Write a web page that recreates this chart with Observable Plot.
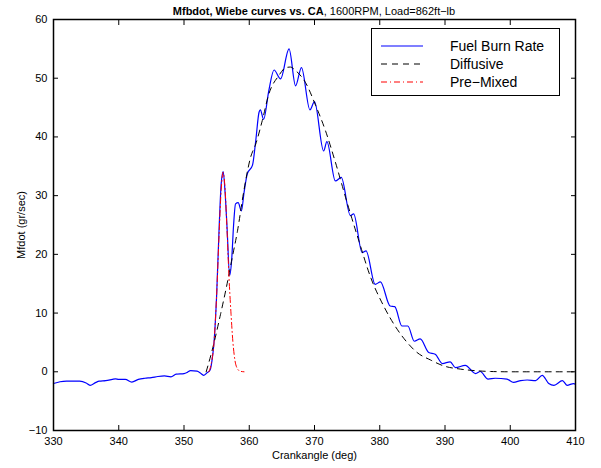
<!DOCTYPE html>
<html>
<head>
<meta charset="utf-8">
<script src="https://cdn.jsdelivr.net/npm/d3@7"></script>
<script src="https://cdn.jsdelivr.net/npm/@observablehq/plot@0.6"></script>
<style>
  body { margin: 0; background: #fff; }
  #wrap { position: relative; width: 601px; height: 468px; font-family: "Liberation Sans", Arial, Helvetica, sans-serif; }
  #title { position: absolute; left: 0; width: 628px; top: 5px; text-align: center; font-size: 11px; color: #000; }
  #legend { position: absolute; left: 371px; top: 28px; width: 189px; height: 68px; border: 1.3px solid #000; background: #fff; box-sizing: border-box; }
  .row { position: absolute; left: 0; height: 18px; display: flex; align-items: center; font-size: 14px; }
  .row svg { margin-left: 9px; margin-right: 27px; }
</style>
</head>
<body>
<div id="wrap">
  <div id="title"><b>Mfbdot, Wiebe curves vs. CA</b>, 1600RPM, Load=862ft−lb</div>
  <div id="chart"></div>
  <div id="legend"></div>
</div>
<script>
// Fuel burn rate (blue)
const crankFuel = [330,331,332,333,334,335,335.6,336.5,337,338,339,339.5,340,341,342,343,344,345,346,347,348,348.8,350,350.5,351,352,352.5,353,353.5,354,354.3,354.6,355,355.4,355.7,356,356.3,356.6,357,357.3,357.6,357.9,358.3,358.8,359.2,359.7,360.5,361,361.5,361.7,362.2,363,363.8,364.8,366.1,367.1,368,369.3,370,371.4,371.9,373.2,374.1,375.5,376,377.3,377.9,379.3,380.1,381.6,382.3,383.4,384.3,385.3,386.2,387.5,388.5,389.6,390.8,391.6,393.1,394.7,395.4,396.6,397.7,399.5,400.5,401.6,402.6,403.9,404.9,405.9,406.7,408,408.7,409.7,410];
const fuelRate = [-2.0,-1.7,-1.6,-1.6,-1.6,-1.9,-2.3,-1.8,-1.6,-1.5,-1.3,-1.2,-1.3,-1.3,-1.75,-1.3,-1.1,-1.0,-0.8,-0.7,-0.85,-0.4,-0.3,-0.1,0.2,0.1,-0.2,-0.6,-0.2,0.3,2,5,13,25,32,34.1,30.5,24.5,16.4,19,25,28.6,28.8,27.4,30.5,33.7,35.2,39.4,44.2,44.6,43.0,47.9,51.4,49.9,55.0,48.7,51.8,44.6,46.0,37.6,39.2,32.5,33.1,26.6,26.9,20.3,20.6,14.9,15.3,11.2,11.1,7.8,7.8,5.2,5.6,3.3,3.0,1.4,1.7,0.7,1.1,-0.3,0.05,-1.25,-1.1,-1.25,-1.8,-1.5,-1.4,-1.5,-0.6,-2.0,-2.3,-1.5,-2.3,-2.0,-2.1];

// Diffusive Wiebe (black dashed)
const crankDiff = [353.4,354.3,355.6,356.7,357.4,358.2,359.2,360.2,361,362,363,364.5,365.6,366.3,367.1,368.6,370.2,371.7,373.2,375,376.8,378.6,380.6,382.4,384.2,385.7,387.8,389.8,392.4,394.9,397,400,410];
const diffusive = [0,3.6,9.8,15.5,19.5,24,31,36.5,38.8,42.8,47.3,50.4,51.8,51.9,51.3,49.3,45.3,41,35.7,28.8,22.3,16.1,11.2,7.7,5.0,3.3,2.0,1.0,0.45,0.17,0.05,0,0];

// Pre-mixed Wiebe (red dash-dot)
const crankPre = [353.8,354.2,354.6,355,355.4,355.7,356,356.3,356.6,356.9,357.2,357.5,357.8,358.2,358.6,359.2];
const premixed = [0,1.5,5,13,24,31,34,31,24,16,10,5,2,0.5,0.1,0];

const xTicks = [330,340,350,360,370,380,390,400,410];
const yTicks = [-10,0,10,20,30,40,50,60];
const legendLabels = ["Fuel Burn Rate","Diffusive","Pre\u2212Mixed"];

const toPts = (xs, ys) => xs.map((x, i) => ({x, y: ys[i]}));
const fmt = d => String(d).replace("-", "\u2212");

const chart = Plot.plot({
  width: 601,
  height: 468,
  marginLeft: 53,
  marginRight: 26,
  marginTop: 19,
  marginBottom: 38,
  style: {fontFamily: '"Liberation Sans", Arial, Helvetica, sans-serif', fontSize: "11px", color: "#000", background: "#fff"},
  x: {domain: [330, 410]},
  y: {domain: [-10, 60]},
  marks: [
    Plot.line(toPts(crankFuel, fuelRate), {x: "x", y: "y", stroke: "#0000ff", strokeWidth: 1.2, curve: "monotone-x"}),
    Plot.line(toPts(crankDiff, diffusive), {x: "x", y: "y", stroke: "#000", strokeWidth: 1, strokeDasharray: "6,5", curve: "monotone-x"}),
    Plot.line(toPts(crankPre, premixed), {x: "x", y: "y", stroke: "#ff0000", strokeWidth: 1, strokeDasharray: "6,3,1,3", curve: "monotone-x"}),
    Plot.axisX(xTicks, {anchor: "bottom", tickSize: -5, tickPadding: 12, tickFormat: fmt, fontSize: 11, label: "Crankangle (deg)", labelAnchor: "center", labelArrow: "none", labelOffset: 28}),
    Plot.axisX(xTicks, {anchor: "top", tickSize: -5, tickFormat: () => "", label: null}),
    Plot.axisY(yTicks, {anchor: "left", tickSize: -5, tickPadding: 11, tickFormat: fmt, fontSize: 11, label: "Mfdot (gr/sec)", labelAnchor: "center", labelArrow: "none", labelOffset: 36}),
    Plot.axisY(yTicks, {anchor: "right", tickSize: -5, tickFormat: () => "", label: null}),
    Plot.frame({stroke: "#000", strokeWidth: 1.5})
  ]
});
document.getElementById("chart").appendChild(chart);

// Legend
const legend = document.getElementById("legend");
const styles = [
  {stroke: "#0000ff", dash: null},
  {stroke: "#000", dash: "6,5"},
  {stroke: "#ff0000", dash: "6,3,1,3"}
];
legendLabels.forEach((lab, i) => {
  const row = document.createElement("div");
  row.className = "row";
  row.style.top = (8 + i * 17.8) + "px";
  const s = styles[i];
  row.innerHTML = `<svg width="42" height="4"><line x1="0" y1="2" x2="42" y2="2" stroke="${s.stroke}" stroke-width="1.1" ${s.dash ? `stroke-dasharray="${s.dash}"` : ""}/></svg><span>${lab}</span>`;
  legend.appendChild(row);
});
</script>
</body>
</html>
